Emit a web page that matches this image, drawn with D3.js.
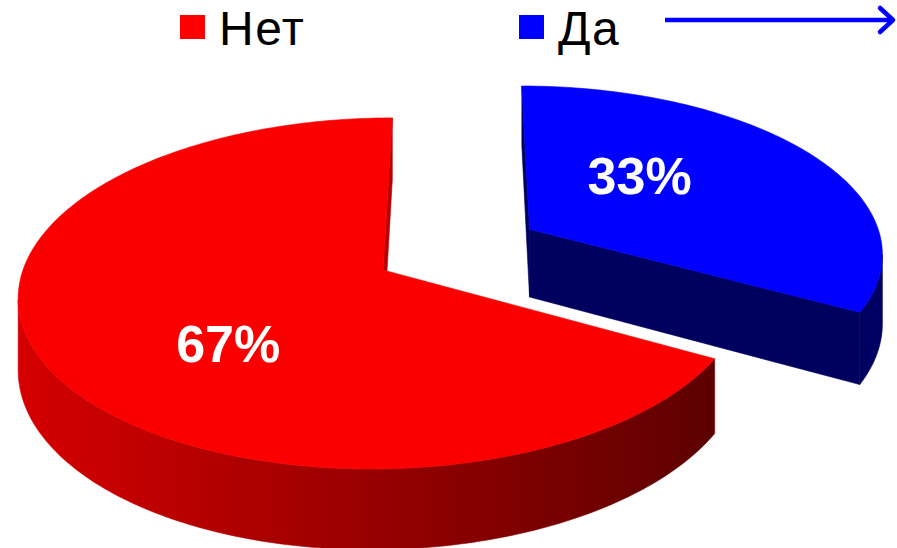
<!DOCTYPE html>
<html>
<head>
<meta charset="utf-8">
<script src="https://cdn.jsdelivr.net/npm/d3@7"></script>
<style>
  html, body { margin: 0; padding: 0; background: #ffffff; }
  svg { display: block; }
</style>
</head>
<body>
<svg id="chart" width="897" height="548"></svg>
<script>
// ---- data ----
const categories = ["Нет", "Да"];
const values = [67, 33];
const valueLabels = ["67%", "33%"];

// ---- styles ----
const topColors = ["#fb0000", "#0000ff"];
const legendColors = ["#ff0000", "#0000ff"];
const faceColors = ["#b80000", "#00005e"];
const wallColors = ["url(#redWall)", "#000062"];
const explode = [0, 0.48];

const svg = d3.select("#chart");

// projection parameters (perspective 3D pie)
const RX = 360, UC = 0.22, X0 = 383 + 360 * 0.22, CY = 270, RY = 172.4, D = 7.5, HT = 70;
function P(u, v, z) {
  const s = D / (D - v);
  return [X0 + RX * (u - UC) * s, CY + RY * v * s + HT * z * s];
}

const defs = svg.append("defs");
const g = defs.append("linearGradient").attr("id", "redWall")
  .attr("gradientUnits", "userSpaceOnUse")
  .attr("x1", 15).attr("y1", 0).attr("x2", 710).attr("y2", 0);
g.append("stop").attr("offset", 0).attr("stop-color", "#d60000");
g.append("stop").attr("offset", 0.5).attr("stop-color", "#990000");
g.append("stop").attr("offset", 1).attr("stop-color", "#5e0000");

// data objects; "Да" is laid out first (clockwise from 12 o'clock)
const data = categories.map((c, i) => ({ cat: c, value: values[i], label: valueLabels[i], i }));
const pie = d3.pie().value(d => d.value).sort(null).startAngle(0).endAngle(2 * Math.PI);
const arcs = pie(data.slice().reverse());

const line = d3.line().curve(d3.curveLinearClosed);
function area(pts) {
  let a = 0;
  for (let k = 0; k < pts.length; k++) {
    const p = pts[k], q = pts[(k + 1) % pts.length];
    a += p[0] * q[1] - q[0] * p[1];
  }
  return a / 2;
}

function buildSlice(a) {
  const d = a.data;
  const mid = (a.startAngle + a.endAngle) / 2;
  const e = explode[d.i];
  const cu = e * Math.sin(mid), cv = -e * Math.cos(mid);
  const n = Math.max(8, Math.ceil((a.endAngle - a.startAngle) / (Math.PI / 180)));
  const angs = d3.range(n + 1).map(k => a.startAngle + (a.endAngle - a.startAngle) * k / n);
  const disc = t => [cu + Math.sin(t), cv - Math.cos(t)];
  const T = angs.map(t => { const q = disc(t); return P(q[0], q[1], 0); });
  const B = angs.map(t => { const q = disc(t); return P(q[0], q[1], 1); });
  const Ct = P(cu, cv, 0), Cb = P(cu, cv, 1);
  return { d, mid, cu, cv, angs, T, B, Ct, Cb, depth: cv + 0.5 * Math.cos(Math.PI - mid) };
}

const slices = arcs.map(buildSlice).sort((p, q) => p.depth - q.depth);

const gPie = svg.append("g");
slices.forEach(s => {
  const i = s.d.i;
  const gs = gPie.append("g");
  const n = s.T.length - 1;
  // radial faces
  const f0 = [s.Ct, s.T[0], s.B[0], s.Cb];
  const f1 = [s.T[n], s.Ct, s.Cb, s.B[n]];
  [f0, f1].forEach(f => {
    if (area(f) < -1) {
      gs.append("path").attr("d", line(f)).attr("fill", faceColors[i])
        .attr("stroke", faceColors[i]).attr("stroke-width", 0.6).attr("stroke-linejoin", "round");
    }
  });
  // curved wall: visible range
  const vis = [];
  for (let k = 0; k < n; k++) {
    vis.push(area([s.T[k], s.T[k + 1], s.B[k + 1], s.B[k]]) < 0);
  }
  const k0 = vis.indexOf(true), k1 = vis.lastIndexOf(true);
  if (k0 >= 0) {
    const top = s.T.slice(k0, k1 + 2);
    const bot = s.B.slice(k0, k1 + 2).reverse();
    gs.append("path").attr("d", line(top.concat(bot))).attr("fill", wallColors[i])
      .attr("stroke", wallColors[i]).attr("stroke-width", 0.6);
  }
  // top face
  gs.append("path").attr("d", line([s.Ct].concat(s.T))).attr("fill", topColors[i])
    .attr("stroke", topColors[i]).attr("stroke-width", 0.6).attr("stroke-linejoin", "round");
});

// value labels
const fs = 52;
slices.forEach(s => {
  const t = s.mid - 15 * Math.PI / 180, r = 0.53;
  const p = P(s.cu + r * Math.sin(t), s.cv - r * Math.cos(t), 0);
  svg.append("text")
    .attr("x", p[0] - 10).attr("y", p[1] + 5 + 0.358 * fs)
    .attr("text-anchor", "middle")
    .attr("font-family", "'Liberation Sans', Arial, sans-serif")
    .attr("font-weight", "bold").attr("font-size", fs)
    .attr("fill", "#ffffff")
    .text(s.d.label);
});

// legend
const legendX = [180, 519];
const legend = svg.append("g");
data.forEach((d, i) => {
  legend.append("rect").attr("x", legendX[i]).attr("y", 15).attr("width", 25).attr("height", 24)
    .attr("fill", legendColors[i]);
  legend.append("text").attr("x", legendX[i] + 39).attr("y", 45)
    .attr("font-family", "'Liberation Sans', Arial, sans-serif")
    .attr("font-size", 48).attr("letter-spacing", 1.5).attr("fill", "#000000")
    .text(d.cat);
});

// arrow
svg.append("line").attr("x1", 665).attr("y1", 20).attr("x2", 892).attr("y2", 20)
  .attr("stroke", "#0000ff").attr("stroke-width", 4.5);
svg.append("path").attr("d", "M880,8 L893,20 L880,32")
  .attr("fill", "none").attr("stroke", "#0000ff").attr("stroke-width", 4.5)
  .attr("stroke-linecap", "round").attr("stroke-linejoin", "round");
</script>
</body>
</html>
